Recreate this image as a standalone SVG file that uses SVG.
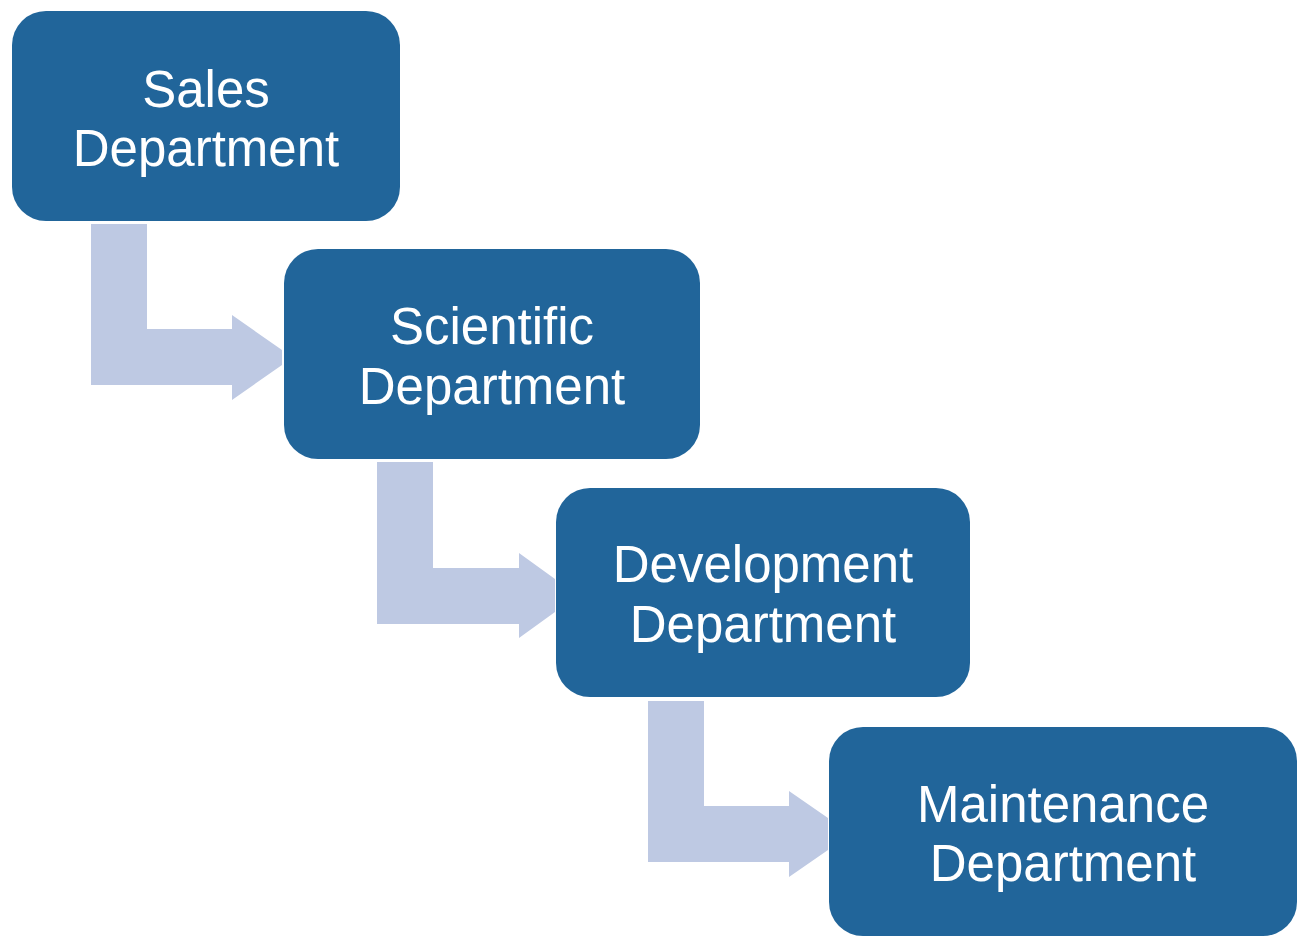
<svg xmlns="http://www.w3.org/2000/svg" width="1299" height="939" viewBox="0 0 1299 939">
<style>
.box{fill:#21659A;}
.arrow{fill:#BEC9E3;}
.lbl{fill:#FFFFFF;font-family:"Liberation Sans","Noto Sans",sans-serif;font-size:51px;text-anchor:middle;}
</style>
<rect width="1299" height="939" fill="#FFFFFF"/>
<g id="connectors">
<polygon class="arrow" points="91,224 147,224 147,329 232,329 232,315 282,350 282,365 232,400 232,385 91,385"/>
<polygon class="arrow" points="377,462 433,462 433,568 519,568 519,553 555,579 555,612 519,638 519,624 377,624"/>
<polygon class="arrow" points="648,701 704,701 704,806 789,806 789,791 828,818 828,850 789,877 789,862 648,862"/>
</g>
<g id="sales">
<rect class="box" x="12" y="11" width="388" height="210" rx="34"/>
<text class="lbl" x="206" y="107">Sales</text>
<text class="lbl" x="206" y="166">Department</text>
</g>
<g id="scientific">
<rect class="box" x="284" y="249" width="416" height="210" rx="34"/>
<text class="lbl" x="492" y="344">Scientific</text>
<text class="lbl" x="492" y="404">Department</text>
</g>
<g id="development">
<rect class="box" x="556" y="488" width="414" height="209" rx="34"/>
<text class="lbl" x="763" y="582">Development</text>
<text class="lbl" x="763" y="642">Department</text>
</g>
<g id="maintenance">
<rect class="box" x="829" y="727" width="468" height="209" rx="34"/>
<text class="lbl" x="1063" y="822">Maintenance</text>
<text class="lbl" x="1063" y="881">Department</text>
</g>
</svg>
